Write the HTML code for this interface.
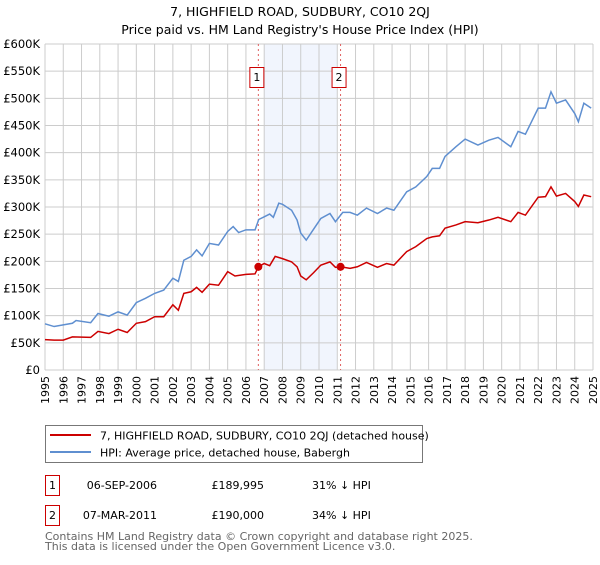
<!DOCTYPE html>
<html><head><meta charset="utf-8"><style>
body{margin:0;background:#fff;}
svg text{font-family:"DejaVu Sans","Liberation Sans",sans-serif;}
</style></head><body>
<svg id="chart" width="600" height="560" xmlns="http://www.w3.org/2000/svg">
<text x="300" y="16" text-anchor="middle" font-size="12.5">7, HIGHFIELD ROAD, SUDBURY, CO10 2QJ</text>
<text x="300" y="34" text-anchor="middle" font-size="12.5">Price paid vs. HM Land Registry's House Price Index (HPI)</text>
<g id="plot"></g>
<g>
<rect x="45.5" y="425.5" width="377" height="37" fill="#fff" stroke="#777"/>
<line x1="50" y1="435" x2="91" y2="435" stroke="#cc0000" stroke-width="2"/>
<text x="100" y="439.5" font-size="11">7, HIGHFIELD ROAD, SUDBURY, CO10 2QJ (detached house)</text>
<line x1="50" y1="452" x2="91" y2="452" stroke="#5f8fd0" stroke-width="2"/>
<text x="100" y="456.5" font-size="11">HPI: Average price, detached house, Babergh</text>
</g>
<g font-size="11">
<rect x="45.5" y="475.5" width="14" height="20" fill="#fff" stroke="#cc0000"/>
<text x="52.5" y="489" text-anchor="middle">1</text>
<text x="157" y="489" text-anchor="end">06-SEP-2006</text>
<text x="264" y="489" text-anchor="end">£189,995</text>
<text x="312" y="489">31% ↓ HPI</text>
<rect x="45.5" y="505.5" width="14" height="20" fill="#fff" stroke="#cc0000"/>
<text x="52.5" y="519" text-anchor="middle">2</text>
<text x="157" y="519" text-anchor="end">07-MAR-2011</text>
<text x="264" y="519" text-anchor="end">£190,000</text>
<text x="312" y="519">34% ↓ HPI</text>
</g>
<g font-size="11" fill="#666">
<text x="45" y="540">Contains HM Land Registry data © Crown copyright and database right 2025.</text>
<text x="45" y="550">This data is licensed under the Open Government Licence v3.0.</text>
</g>
</svg>
<script>
const hpiYears=[1995,1995.5,1996,1996.5,1996.7,1997.5,1997.9,1998.5,1999,1999.5,2000,2000.5,2001,2001.5,2002,2002.3,2002.6,2003,2003.3,2003.6,2004,2004.5,2005,2005.3,2005.6,2006,2006.5,2006.7,2007,2007.3,2007.5,2007.8,2008,2008.5,2008.8,2009.0,2009.3,2009.7,2010.1,2010.6,2010.9,2011.3,2011.7,2012.1,2012.6,2013.2,2013.7,2014.1,2014.8,2015.3,2015.9,2016.2,2016.6,2016.9,2017.5,2018.0,2018.7,2019.3,2019.8,2020.5,2020.9,2021.3,2022.0,2022.4,2022.7,2023.0,2023.5,2024.0,2024.2,2024.5,2024.9];
const hpiValues=[85,80,83,86,91,87,104,99,107,101,124,132,141,147,169,163,202,209,221,210,233,230,255,264,253,258,258,277,282,287,281,307,305,294,276,252,239,259,279,288,273,290,290,285,298,288,298,294,328,337,356,371,371,393,411,425,414,423,428,411,439,434,482,482,512,491,497,472,457,491,482];
const redYears=[1995,1995.5,1996,1996.5,1997.5,1997.9,1998.5,1999,1999.5,2000,2000.5,2001,2001.5,2002,2002.3,2002.6,2003,2003.3,2003.6,2004,2004.5,2005,2005.4,2006,2006.5,2006.68,2007,2007.3,2007.6,2008,2008.5,2008.8,2009.0,2009.3,2009.7,2010.1,2010.6,2010.9,2011.18,2011.7,2012.1,2012.6,2013.2,2013.7,2014.1,2014.8,2015.3,2015.9,2016.2,2016.6,2016.9,2017.5,2018.0,2018.7,2019.3,2019.8,2020.5,2020.9,2021.3,2022.0,2022.4,2022.7,2023.0,2023.5,2024.0,2024.2,2024.5,2024.9];
const redValues=[56,55,55,61,60,71,67,75,69,86,89,98,98,120,110,141,144,152,143,158,156,181,173,176,177,190,196,192,209,205,199,190,173,166,179,193,199,189,190,187,190,198,189,196,193,218,227,242,245,247,261,267,273,271,276,281,273,290,285,318,319,337,320,325,310,301,322,319];
const saleYears=[2006.68,2011.18];
const saleValues=[189.995,190];
const saleLabels=["1","2"];
const yTicks=[0,50,100,150,200,250,300,350,400,450,500,550,600];
const xTicks=[1995,1996,1997,1998,1999,2000,2001,2002,2003,2004,2005,2006,2007,2008,2009,2010,2011,2012,2013,2014,2015,2016,2017,2018,2019,2020,2021,2022,2023,2024,2025];
const X0=45,X1=593,Y0=370,Y1=44;
const xs=y=>X0+(y-1995)/30*(X1-X0);
const ys=v=>Y0-v/600*(Y0-Y1);
const NS="http://www.w3.org/2000/svg";
const g=document.getElementById('plot');
function mk(t,a){const e=document.createElementNS(NS,t);for(const k in a)e.setAttribute(k,a[k]);g.appendChild(e);return e;}
const shade=mk('rect',{x:xs(2007),y:Y1,width:xs(2011)-xs(2007),height:Y0-Y1,fill:'#eef3fc',opacity:0.8});


xTicks.forEach(t=>{const l=mk('line',{x1:xs(t),x2:xs(t),y1:Y1,y2:Y0,stroke:'#ccc'});


const tx=mk('text',{x:0,y:0,'font-size':11,'text-anchor':'end',transform:`translate(${xs(t)+4},${Y0+6}) rotate(-90)`});tx.textContent=t;

});
yTicks.forEach(t=>{const l=mk('line',{x1:X0,x2:X1,y1:ys(t),y2:ys(t),stroke:'#ccc'});


const tx=mk('text',{x:X0-5,y:ys(t)+4,'font-size':11.5,'text-anchor':'end'});tx.textContent=t===0?'£0':'£'+t+'K';

});
saleYears.forEach((y,i)=>{const l=mk('line',{x1:xs(y),x2:xs(y),y1:Y1,y2:Y0,stroke:'#e06060','stroke-dasharray':'2,3'});


const r=mk('rect',{x:xs(y)-8.5,y:67.5,width:14,height:20,fill:'#fff',stroke:'#cc0000'});


const t=mk('text',{x:xs(y)-1.5,y:81,'font-size':11,'text-anchor':'middle'});t.textContent=saleLabels[i];

});
const pb=mk('polyline',{points:hpiYears.map((y,i)=>xs(y)+','+ys(hpiValues[i])).join(' '),fill:'none',stroke:'#5f8fd0','stroke-width':1.5});


const pr=mk('polyline',{points:redYears.map((y,i)=>xs(y)+','+ys(redValues[i])).join(' '),fill:'none',stroke:'#cc0000','stroke-width':1.5});


saleYears.forEach((y,i)=>{const c=mk('circle',{cx:xs(y),cy:ys(saleValues[i]),r:4,fill:'#cc0000'});

});
</script>
</body></html>
